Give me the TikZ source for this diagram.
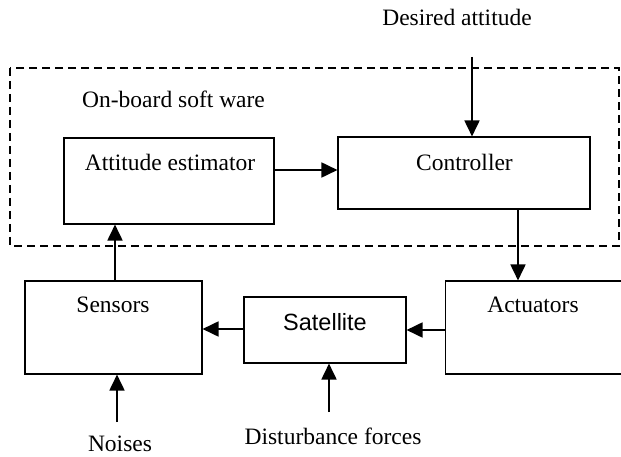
\documentclass[tikz,border=0pt]{standalone}
\usepackage{fontspec}
\setmainfont{Liberation Serif}
\newfontfamily\satfont{Liberation Sans}
\usetikzlibrary{arrows.meta}

\begin{document}
\begin{tikzpicture}
[x=1pt,y=-1pt,%
  blockDecorate/.style={draw,line width=1.1pt,inner sep=0pt},%
  textDecorate/.style={inner sep=0pt,font=\fontsize{23.5}{27}\selectfont},%
  arrowDecorate/.style={line width=1.8pt,-{Triangle[length=16pt,width=15pt]}}]
\useasboundingbox (0,0) rectangle (621,457);
\clip (0,0) rectangle (621,457);
%% on-board software frame
\draw[line width=1.1pt,dash pattern=on 8pt off 5pt] (10,68) rectangle (619,246);
\node[textDecorate,anchor=west] (obs) at (82,99) {On-board soft ware};
%% blocks
\node[blockDecorate,minimum width=210pt,minimum height=86pt] (est) at (169,181) {};
\node[blockDecorate,minimum width=252pt,minimum height=72pt] (ctrl) at (464,173) {};
\node[blockDecorate,minimum width=177pt,minimum height=93pt] (sen) at (113.5,327.5) {};
\node[blockDecorate,minimum width=162pt,minimum height=66pt] (sat) at (325,330) {};
\node[blockDecorate,minimum width=190pt,minimum height=93pt] (act) at (540.5,327.5) {};
%% block labels
\foreach \nodename/\x/\y/\labeltext in {
  estLabel/170/162/Attitude estimator, ctrlLabel/464.5/162/Controller,
  senLabel/113/305/Sensors, actLabel/533/305/Actuators}
{
  \node[textDecorate] (\nodename) at (\x,\y) {\labeltext};
}
\node[textDecorate,font=\satfont\fontsize{23.5}{27}\selectfont] (satLabel) at (325,322) {Satellite};
%% inputs
\node[textDecorate] (desired) at (457,17) {Desired attitude};
\node[textDecorate] (noise) at (120,444) {Noises};
\node[textDecorate] (dist) at (333,436) {Disturbance forces};
\coordinate (desiredIn) at (472,57);
\coordinate (noiseIn) at (117,422);
\coordinate (distIn) at (329,412);
%% connect blocks
\draw[arrowDecorate] (desiredIn) -- (desiredIn |- ctrl.north);
\draw[arrowDecorate] ([yshift=11pt]est.east) -- ([yshift=11pt]est.east -| ctrl.west);
\draw[arrowDecorate] (518,0 |- ctrl.south) -- (518,0 |- act.north);
\draw[arrowDecorate] (act.west |- sat.east) -- (sat.east);
\draw[arrowDecorate] ([yshift=1pt]sat.west) -- ([yshift=1pt]sat.west -| sen.east);
\draw[arrowDecorate] ([xshift=1.5pt]sen.north) -- ([xshift=1.5pt]sen.north |- est.south);
\draw[arrowDecorate] (noiseIn) -- (noiseIn |- sen.south);
\draw[arrowDecorate] (distIn) -- (distIn |- sat.south);
\end{tikzpicture}
\end{document}
